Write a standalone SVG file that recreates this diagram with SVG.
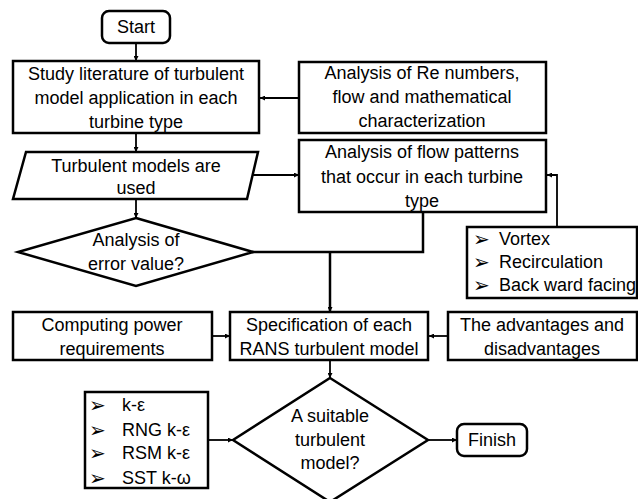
<svg xmlns="http://www.w3.org/2000/svg" width="638" height="499" viewBox="0 0 638 499">
<style>
.box{fill:#fff;stroke:#000;stroke-width:2.5}
.t{font-family:"Liberation Sans",Arial,sans-serif;font-size:18px;fill:#000;text-anchor:middle}
.tl{font-family:"Liberation Sans",Arial,sans-serif;font-size:18px;fill:#000}
.b{font-family:"DejaVu Sans",sans-serif;font-size:20px;fill:#000}
.c{fill:none;stroke:#000;stroke-width:1.8}
.ct{fill:none;stroke:#000;stroke-width:2.5}
</style>
<defs>
<marker id="ah" viewBox="0 0 10 10" refX="10" refY="5" markerWidth="5" markerHeight="5" markerUnits="userSpaceOnUse" orient="auto">
<path d="M0,0 L10,5 L0,10 z" fill="#000"/>
</marker>
</defs>
<rect width="638" height="499" fill="#fff"/>
<g id="connectors">
<line class="c" x1="136" y1="43" x2="136" y2="61" marker-end="url(#ah)"/>
<line class="c" x1="299" y1="98" x2="260" y2="98" marker-end="url(#ah)"/>
<line class="c" x1="136" y1="133" x2="136" y2="152" marker-end="url(#ah)"/>
<line class="c" x1="253" y1="175" x2="299" y2="175" marker-end="url(#ah)"/>
<line class="c" x1="136" y1="199" x2="136" y2="218" marker-end="url(#ah)"/>
<polyline class="ct" points="423,212 423,252 252,252"/>
<line class="ct" x1="330" y1="252" x2="330" y2="312" marker-end="url(#ah)"/>
<polyline class="c" points="557,227 557,175 547,175" marker-end="url(#ah)"/>
<line class="c" x1="212" y1="336" x2="230" y2="336" marker-end="url(#ah)"/>
<line class="c" x1="448" y1="336" x2="429" y2="336" marker-end="url(#ah)"/>
<line class="c" x1="330" y1="360" x2="330" y2="378" marker-end="url(#ah)"/>
<line class="c" x1="208" y1="440" x2="233" y2="440" marker-end="url(#ah)"/>
<line class="c" x1="428" y1="440" x2="457" y2="440" marker-end="url(#ah)"/>
</g>
<g id="start">
<rect class="box" x="102" y="11" width="68" height="32" rx="7"/>
<text class="t" x="136" y="33">Start</text>
</g>
<g id="study">
<rect class="box" x="13" y="61" width="246" height="72"/>
<text class="t" x="136" y="80">Study literature of turbulent</text>
<text class="t" x="136" y="104">model application in each</text>
<text class="t" x="136" y="128">turbine type</text>
</g>
<g id="re">
<rect class="box" x="299" y="62" width="247" height="71"/>
<text class="t" x="422" y="79">Analysis of Re numbers,</text>
<text class="t" x="422" y="103">flow and mathematical</text>
<text class="t" x="422" y="127">characterization</text>
</g>
<g id="models">
<polygon class="box" points="26,152 258,152 247,199 13,199"/>
<text class="t" x="136" y="172">Turbulent models are</text>
<text class="t" x="136" y="194">used</text>
</g>
<g id="flow">
<rect class="box" x="299" y="140" width="247" height="72"/>
<text class="t" x="422" y="158">Analysis of flow patterns</text>
<text class="t" x="422" y="183">that occur in each turbine</text>
<text class="t" x="422" y="207">type</text>
</g>
<g id="error">
<polygon class="box" points="136,218 253,252 136,286 18,252"/>
<text class="t" x="136" y="246">Analysis of</text>
<text class="t" x="136" y="270">error value?</text>
</g>
<g id="patterns">
<rect class="box" x="467" y="227" width="170" height="71"/>
<text class="b" x="473" y="246">➢</text>
<text class="tl" x="499" y="245">Vortex</text>
<text class="b" x="473" y="269">➢</text>
<text class="tl" x="499" y="268">Recirculation</text>
<text class="b" x="473" y="292">➢</text>
<text class="tl" x="499" y="291">Back ward facing</text>
</g>
<g id="computing">
<rect class="box" x="13" y="312" width="199" height="48"/>
<text class="t" x="112" y="331">Computing power</text>
<text class="t" x="112" y="355">requirements</text>
</g>
<g id="spec">
<rect class="box" x="230" y="312" width="198" height="48"/>
<text class="t" x="329" y="331">Specification of each</text>
<text class="t" x="329" y="355">RANS turbulent model</text>
</g>
<g id="adv">
<rect class="box" x="448" y="312" width="189" height="48"/>
<text class="t" x="542" y="331">The advantages and</text>
<text class="t" x="542" y="355">disadvantages</text>
</g>
<g id="list">
<rect class="box" x="85" y="392" width="123" height="96"/>
<text class="b" x="89" y="412">➢</text>
<text class="tl" x="122" y="411">k-ε</text>
<text class="b" x="89" y="437">➢</text>
<text class="tl" x="122" y="436">RNG k-ε</text>
<text class="b" x="89" y="460">➢</text>
<text class="tl" x="122" y="459">RSM k-ε</text>
<text class="b" x="89" y="485">➢</text>
<text class="tl" x="122" y="484">SST k-ω</text>
</g>
<g id="suitable">
<polygon class="box" points="330,378 428,440 330,502 233,440"/>
<text class="t" x="330" y="422">A suitable</text>
<text class="t" x="330" y="446">turbulent</text>
<text class="t" x="330" y="469">model?</text>
</g>
<g id="finish">
<rect class="box" x="457" y="424" width="70" height="32" rx="7"/>
<text class="t" x="492" y="446">Finish</text>
</g>
</svg>
